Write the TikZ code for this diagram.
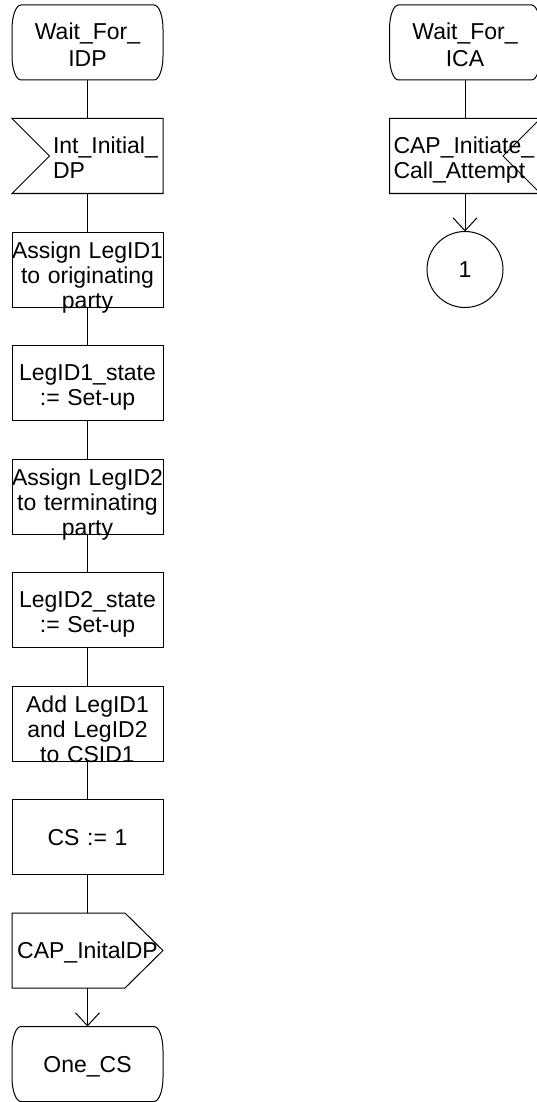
\documentclass[tikz,border=0pt]{standalone}
\usepackage{fontspec}
\setmainfont{Liberation Sans}
\usetikzlibrary{arrows.meta,positioning}

\begin{document}
\begin{tikzpicture}[x=1pt,y=1pt,>={Straight Barb[length=13pt,width=24pt]},
  line width=1pt,node distance=38.5pt,
  sdlnode/.style={rectangle,minimum width=151pt,minimum height=75pt,
    inner sep=0pt,outer sep=0pt,text width=151pt,align=center,
    font=\fontsize{23pt}{25pt}\selectfont},
  statenode/.style={sdlnode,font=\fontsize{23pt}{27pt}\selectfont},
  tasknode/.style={sdlnode,draw},
  one line/.style={text height=45.5pt,text depth=29.5pt},
  two lines/.style={text height=35pt,text depth=40pt},
  three lines/.style={text height=26pt,text depth=49pt}]
  \useasboundingbox (0,0) rectangle (536,-1102);

  % left branch
  \node[statenode,two lines] (wfidp) at (87.5,-42.5) {Wait\_For\_\\IDP};
  \node[sdlnode,two lines,align=left,below=of wfidp] (iidp)
    {\hspace*{41pt}Int\_Initial\_\\\hspace*{41pt}DP};
  \node[tasknode,three lines,below=of iidp] (leg1)
    {Assign LegID1\\to originating\\party};
  \node[tasknode,two lines,below=of leg1] (leg1st) {LegID1\_state\\:= Set-up};
  \node[tasknode,three lines,below=of leg1st] (leg2)
    {Assign LegID2\\to terminating\\party};
  \node[tasknode,two lines,below=of leg2] (leg2st) {LegID2\_state\\:= Set-up};
  \node[tasknode,three lines,below=of leg2st] (addcs)
    {Add LegID1\\and LegID2\\to CSID1};
  \node[tasknode,one line,below=of addcs] (csone) {CS := 1};
  \node[sdlnode,one line,below=of csone] (oidp) {CAP\_InitalDP};
  \node[statenode,one line,below=of oidp] (onecs) {One\_CS};

  % right branch
  \node[statenode,two lines] (wfica) at (465,-42.5) {Wait\_For\_\\ICA};
  \node[sdlnode,two lines,align=left,below=of wfica] (cica)
    {\hspace*{4pt}CAP\_Initiate\_\\\hspace*{4pt}Call\_Attempt};
  \node[circle,draw,minimum size=76pt,inner sep=0pt,outer sep=0pt,
    font=\fontsize{23pt}{25pt}\selectfont,below=38pt of cica] (con1) {1};

  % state outlines
  \foreach \s in {wfidp,wfica,onecs}
    \draw ([xshift=9pt]\s.north west) -- ([xshift=-9pt]\s.north east)
      arc[start angle=90,end angle=0,x radius=9pt,y radius=24pt] -- ++(0,-27pt)
      arc[start angle=0,end angle=-90,x radius=9pt,y radius=24pt]
      -- ([xshift=9pt]\s.south west)
      arc[start angle=270,end angle=180,x radius=9pt,y radius=24pt] -- ++(0,27pt)
      arc[start angle=180,end angle=90,x radius=9pt,y radius=24pt] -- cycle;

  % input and output symbols
  \draw (iidp.north west) -- (iidp.north east) -- (iidp.south east)
    -- (iidp.south west) -- ([xshift=37.5pt]iidp.west) -- cycle;
  \draw (cica.north east) -- (cica.north west) -- (cica.south west)
    -- (cica.south east) -- ([xshift=-37.5pt]cica.east) -- cycle;
  \draw (oidp.north west) -- ([xshift=-38pt]oidp.north east) -- (oidp.east)
    -- ([xshift=-38pt]oidp.south east) -- (oidp.south west) -- cycle;

  % flow lines
  \draw (wfidp.south) -- (iidp.north);
  \draw (iidp.south) -- (leg1.north);
  \draw (leg1.south) -- (leg1st.north);
  \draw (leg1st.south) -- (leg2.north);
  \draw (leg2.south) -- (leg2st.north);
  \draw (leg2st.south) -- (addcs.north);
  \draw (addcs.south) -- (csone.north);
  \draw (csone.south) -- (oidp.north);
  \draw[->] (oidp.south) -- (onecs.north);
  \draw (wfica.south) -- (cica.north);
  \draw[->] (cica.south) -- (con1.north);
\end{tikzpicture}
\end{document}
